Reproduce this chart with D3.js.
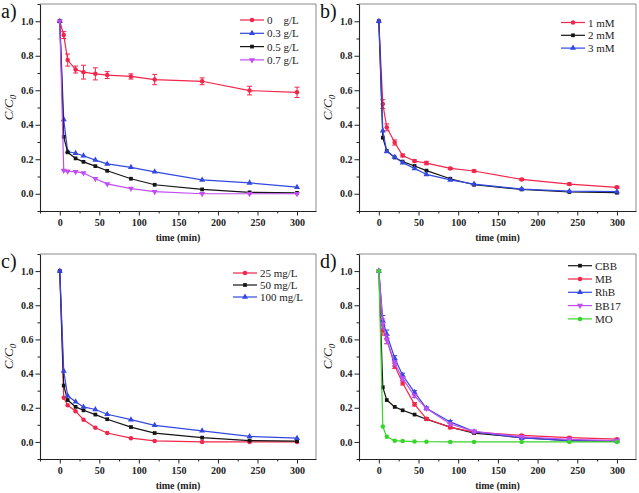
<!DOCTYPE html>
<html>
<head>
<meta charset="utf-8">
<script src="https://cdn.jsdelivr.net/npm/d3@7"></script>
<style>
  html, body { margin: 0; padding: 0; background: #fff; }
  svg { display: block; }
</style>
</head>
<body>
<svg id="chart" width="639" height="493"></svg>
<script>
// ---------- DATA ----------
const timeMin = [0, 5, 10, 20, 30, 45, 60, 90, 120, 180, 240, 300];
const xTicks = [0, 50, 100, 150, 200, 250, 300];
const yTicks = [0.0, 0.2, 0.4, 0.6, 0.8, 1.0];
const panelNames = ["a)", "b)", "c)", "d)"];

// panel a: catalyst dosage
const aLabels = ["0    g/L", "0.3 g/L", "0.5 g/L", "0.7 g/L"];
const a_0g   = [1.0, 0.92, 0.775, 0.72, 0.705, 0.695, 0.688, 0.68, 0.662, 0.652, 0.598, 0.588];
const a_0gErr= [0.0, 0.02, 0.035, 0.02, 0.04, 0.035, 0.02, 0.015, 0.03, 0.02, 0.025, 0.03];
const a_03g  = [1.0, 0.43, 0.245, 0.235, 0.22, 0.195, 0.173, 0.153, 0.127, 0.08, 0.063, 0.038];
const a_05g  = [1.0, 0.33, 0.24, 0.205, 0.185, 0.16, 0.133, 0.087, 0.052, 0.025, 0.008, 0.005];
const a_07g  = [1.0, 0.135, 0.13, 0.128, 0.12, 0.087, 0.057, 0.03, 0.012, 0.0, 0.0, 0.0];

// panel b: oxidant concentration
const bLabels = ["1 mM", "2 mM", "3 mM"];
const b_1mM  = [1.0, 0.52, 0.385, 0.297, 0.222, 0.19, 0.178, 0.147, 0.132, 0.083, 0.056, 0.037];
const b_1mMErr = [0.0, 0.025, 0.02, 0.015, 0.008, 0.006, 0.01, 0.006, 0.006, 0.006, 0.006, 0.006];
const b_2mM  = [1.0, 0.325, 0.248, 0.21, 0.186, 0.161, 0.134, 0.087, 0.052, 0.025, 0.01, 0.006];
const b_3mM  = [1.0, 0.365, 0.245, 0.213, 0.18, 0.147, 0.112, 0.08, 0.056, 0.027, 0.015, 0.012];

// panel c: initial dye concentration
const cLabels = ["25 mg/L", "50 mg/L", "100 mg/L"];
const c_25   = [1.0, 0.258, 0.215, 0.18, 0.13, 0.083, 0.052, 0.022, 0.006, 0.0, 0.0, 0.0];
const c_50   = [1.0, 0.33, 0.245, 0.205, 0.185, 0.16, 0.133, 0.087, 0.052, 0.025, 0.008, 0.005];
const c_100  = [1.0, 0.415, 0.27, 0.235, 0.205, 0.19, 0.162, 0.13, 0.097, 0.065, 0.032, 0.022];

// panel d: different dyes
const dLabels = ["CBB", "MB", "RhB", "BB17", "MO"];
const d_CBB  = [1.0, 0.32, 0.245, 0.205, 0.185, 0.16, 0.133, 0.087, 0.052, 0.025, 0.008, 0.005];
const d_MB   = [1.0, 0.655, 0.6, 0.445, 0.345, 0.22, 0.135, 0.085, 0.057, 0.038, 0.025, 0.016];
const d_RhB  = [1.0, 0.71, 0.63, 0.49, 0.39, 0.29, 0.197, 0.117, 0.06, 0.023, 0.008, 0.005];
const d_BB17 = [1.0, 0.69, 0.6, 0.46, 0.37, 0.27, 0.195, 0.105, 0.062, 0.03, 0.015, 0.008];
const d_MO   = [1.0, 0.09, 0.03, 0.007, 0.005, 0.002, 0.001, 0.0, 0.0, 0.0, 0.0, 0.0];
const d_Err  = [0.0, 0.03, 0.025, 0.015, 0.012, 0.01, 0.008, 0.008, 0.006, 0.005, 0.005, 0.005];

// ---------- STYLE ----------
const RED = "#f2254a", BLUE = "#3348e0", BLACK = "#151515", MAG = "#c04ef2", GREEN = "#38d42a";

const panels = [
  { name: panelNames[0], box: [40, 4, 316, 211], legend: [240, 20, 13.3],
    series: [
      { label: aLabels[0], v: a_0g,  err: a_0gErr, color: RED,   sym: "circle" },
      { label: aLabels[1], v: a_03g, color: BLUE,  sym: "tri" },
      { label: aLabels[2], v: a_05g, color: BLACK, sym: "square" },
      { label: aLabels[3], v: a_07g, color: MAG,   sym: "triDown" } ] },
  { name: panelNames[1], box: [359, 4, 636, 211], legend: [561, 22.5, 12.8],
    series: [
      { label: bLabels[0], v: b_1mM, err: b_1mMErr, color: RED, sym: "circle" },
      { label: bLabels[1], v: b_2mM, color: BLACK, sym: "square" },
      { label: bLabels[2], v: b_3mM, color: BLUE,  sym: "tri" } ] },
  { name: panelNames[2], box: [40, 254, 316, 459], legend: [233, 273, 12],
    series: [
      { label: cLabels[0], v: c_25,  color: RED,   sym: "circle" },
      { label: cLabels[1], v: c_50,  color: BLACK, sym: "square" },
      { label: cLabels[2], v: c_100, color: BLUE,  sym: "tri" } ] },
  { name: panelNames[3], box: [359, 254, 636, 459], legend: [568, 265.7, 13.3],
    series: [
      { label: dLabels[0], v: d_CBB,  color: BLACK, sym: "square" },
      { label: dLabels[1], v: d_MB,   err: d_Err, color: RED,  sym: "circle" },
      { label: dLabels[2], v: d_RhB,  err: d_Err, color: BLUE, sym: "tri" },
      { label: dLabels[3], v: d_BB17, err: d_Err, color: MAG,  sym: "triDown" },
      { label: dLabels[4], v: d_MO,   color: GREEN, sym: "circle" } ] }
];

const svg = d3.select("#chart");
svg.append("rect").attr("width", 639).attr("height", 493).attr("fill", "#fff");

const FONT = "Liberation Serif, serif";

function symbolPath(sym) {
  const t = sym === "square" ? d3.symbolSquare
          : (sym === "tri" || sym === "triDown") ? d3.symbolTriangle
          : d3.symbolCircle;
  return d3.symbol().type(t).size(sym === "square" ? 14 : 16)();
}

panels.forEach(p => {
  const [L, T, R, B] = p.box;
  const x = d3.scaleLinear().domain([-25, 324]).range([L, R]);
  const y = d3.scaleLinear().domain([-0.1, 1.1]).range([B, T]);
  const g = svg.append("g");

  // frame: top/right grey
  g.append("line").attr("x1", L).attr("x2", R).attr("y1", T).attr("y2", T)
    .attr("stroke", "#8a8a8a").attr("stroke-width", 1);
  g.append("line").attr("x1", R).attr("x2", R).attr("y1", T).attr("y2", B)
    .attr("stroke", "#8a8a8a").attr("stroke-width", 1);

  // minor ticks
  const xMinor = d3.range(-25, 325, 25).filter(v => v % 50 !== 0);
  g.append("g").attr("transform", `translate(0,${B})`)
    .call(d3.axisBottom(x).tickValues(xMinor).tickSize(2.5).tickFormat(""))
    .call(a => a.select(".domain").remove())
    .selectAll("line").attr("stroke", "#222");
  const yMinor = [-0.1, 0.1, 0.3, 0.5, 0.7, 0.9, 1.1];
  g.append("g").attr("transform", `translate(${L},0)`)
    .call(d3.axisLeft(y).tickValues(yMinor).tickSize(2.5).tickFormat(""))
    .call(a => a.select(".domain").remove())
    .selectAll("line").attr("stroke", "#222");

  // major axes
  const xa = g.append("g").attr("transform", `translate(0,${B})`)
    .call(d3.axisBottom(x).tickValues(xTicks).tickSize(4.5).tickSizeOuter(0).tickPadding(3));
  const ya = g.append("g").attr("transform", `translate(${L},0)`)
    .call(d3.axisLeft(y).tickValues(yTicks).tickSize(4.5).tickSizeOuter(0).tickPadding(2)
      .tickFormat(d3.format(".1f")));
  [xa, ya].forEach(a => {
    a.select(".domain").attr("stroke", "#222").attr("stroke-width", 1.1);
    a.selectAll(".tick line").attr("stroke", "#222");
    a.selectAll("text").attr("font-family", FONT).attr("font-size", 10)
      .attr("font-weight", "bold").attr("fill", "#222");
  });

  // axis titles
  g.append("text").attr("x", (L + R) / 2).attr("y", B + 30)
    .attr("text-anchor", "middle").attr("font-family", FONT).attr("font-size", 10)
    .attr("font-weight", "bold").attr("fill", "#222").text("time (min)");
  const yl = g.append("text")
    .attr("transform", `translate(${L - 27},${(T + B) / 2}) rotate(-90)`)
    .attr("text-anchor", "middle").attr("font-family", FONT).attr("font-size", 13)
    .attr("font-style", "italic").attr("fill", "#222");
  yl.append("tspan").text("C/C");
  yl.append("tspan").attr("font-size", 9).attr("dy", 3).text("0");

  // panel label
  g.append("text").attr("x", L - 39).attr("y", T + 14)
    .attr("font-family", FONT).attr("font-size", 20).attr("fill", "#111").text(p.name);

  // series
  const line = d3.line().x((d, i) => x(timeMin[i])).y(d => y(d));
  p.series.forEach(s => {
    const sg = g.append("g");
    sg.append("path").datum(s.v).attr("d", line).attr("fill", "none")
      .attr("stroke", s.color).attr("stroke-width", 1.2);
    if (s.err) {
      s.v.forEach((v, i) => {
        const e = s.err[i];
        if (e <= 0) return;
        const cx = x(timeMin[i]);
        sg.append("line").attr("x1", cx).attr("x2", cx).attr("y1", y(v - e)).attr("y2", y(v + e))
          .attr("stroke", s.color).attr("stroke-width", 1);
        [v - e, v + e].forEach(w => sg.append("line")
          .attr("x1", cx - 2.5).attr("x2", cx + 2.5).attr("y1", y(w)).attr("y2", y(w))
          .attr("stroke", s.color).attr("stroke-width", 1));
      });
    }
    sg.selectAll("path.m").data(s.v).join("path").attr("class", "m")
      .attr("d", symbolPath(s.sym))
      .attr("transform", (d, i) => `translate(${x(timeMin[i])},${y(d)})${s.sym === "triDown" ? " rotate(180)" : ""}`)
      .attr("fill", s.color);
  });

  // legend
  const [lx, ly, ldy] = p.legend;
  p.series.forEach((s, i) => {
    const yy = ly + i * ldy;
    g.append("line").attr("x1", lx).attr("x2", lx + 24).attr("y1", yy).attr("y2", yy)
      .attr("stroke", s.color).attr("stroke-width", 1.2);
    g.append("path").attr("d", symbolPath(s.sym))
      .attr("transform", `translate(${lx + 12},${yy})${s.sym === "triDown" ? " rotate(180)" : ""}`)
      .attr("fill", s.color);
    g.append("text").attr("x", lx + 27).attr("y", yy + 4)
      .attr("font-family", FONT).attr("font-size", 11).attr("fill", "#222")
      .style("white-space", "pre").text(s.label);
  });
});
</script>
</body>
</html>
